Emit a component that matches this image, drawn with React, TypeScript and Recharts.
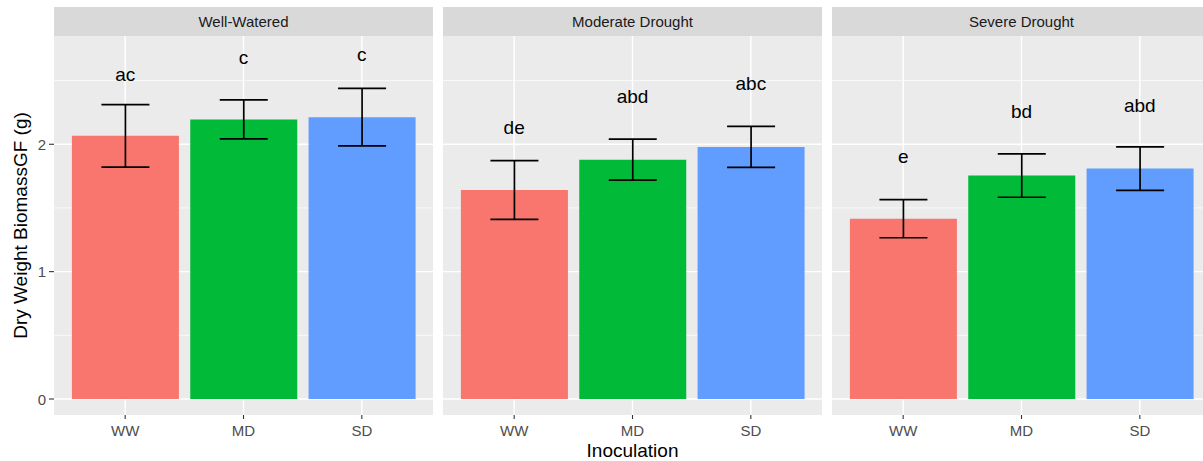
import React from 'react';
import {
  ComposedChart,
  Bar,
  XAxis,
  YAxis,
  CartesianGrid,
  ErrorBar,
  Line,
  LabelList,
  Cell,
} from 'recharts';

const inoculation = ['WW', 'MD', 'SD'];
const panelTitles = ['Well-Watered', 'Moderate Drought', 'Severe Drought'];
const barColors = ['#F8766D', '#00BA38', '#619CFF'];

const wellWateredMeans = [2.066, 2.195, 2.213];
const wellWateredSE = [0.245, 0.153, 0.226];
const wellWateredLetters = ['ac', 'c', 'c'];
const wellWateredLetterY = [2.545, 2.68, 2.7];

const moderateMeans = [1.641, 1.879, 1.979];
const moderateSE = [0.23, 0.161, 0.161];
const moderateLetters = ['de', 'abd', 'abc'];
const moderateLetterY = [2.126, 2.37, 2.47];

const severeMeans = [1.416, 1.754, 1.809];
const severeSE = [0.15, 0.17, 0.171];
const severeLetters = ['e', 'bd', 'abd'];
const severeLetterY = [1.9, 2.25, 2.3];

const yTicks = [0, 1, 2];
const yMinor = [0.5, 1.5, 2.5];
const yDomain: [number, number] = [-0.1256, 2.85];

const FONT = '"Liberation Sans", Arial, Helvetica, sans-serif';

const buildData = (means: number[], se: number[], letters: string[], ly: number[]) =>
  inoculation.map((name, i) => ({ name, mean: means[i], se: se[i], letter: letters[i], letterY: ly[i] }));

const panelsData = [
  buildData(wellWateredMeans, wellWateredSE, wellWateredLetters, wellWateredLetterY),
  buildData(moderateMeans, moderateSE, moderateLetters, moderateLetterY),
  buildData(severeMeans, severeSE, severeLetters, severeLetterY),
];

const PANEL_LEFTS = [54, 443, 832];
const PANEL_W = 379;
const PANEL_TOP = 36;
const PANEL_BOTTOM = 415;
const X_PAD = 12;

const yPix = (v: number, offset: any) =>
  offset.top + offset.height * (1 - (v - yDomain[0]) / (yDomain[1] - yDomain[0]));

const makeHGen = (vals: number[]) => (props: any) => {
  const s = props?.yAxis?.scale;
  if (s && typeof s === 'function') {
    const r = vals.map((v) => s(v));
    if (r.every((n) => typeof n === 'number' && !isNaN(n))) return r;
  }
  return vals.map((v) => yPix(v, props.offset));
};

const vGen = (props: any) => {
  const off = props.offset;
  const band = (off.width - 2 * X_PAD) / inoculation.length;
  return inoculation.map((_, i) => off.left + X_PAD + band * (i + 0.5));
};

const XTick = (props: any) => {
  const { x, y, payload } = props;
  return (
    <text x={x} y={y + 15} textAnchor="middle" fontSize={15} fill="#4D4D4D" fontFamily={FONT}>
      {payload.value}
    </text>
  );
};

const YTick = (props: any) => {
  const { x, y, payload } = props;
  return (
    <text x={x} y={y + 5.5} textAnchor="end" fontSize={15} fill="#4D4D4D" fontFamily={FONT}>
      {payload.value}
    </text>
  );
};

const LetterLabel = (props: any) => {
  const { x, y, value } = props;
  return (
    <text x={x} y={y + 6} textAnchor="middle" fontSize={19} fill="#000000" fontFamily={FONT}>
      {value}
    </text>
  );
};

const Panel = ({ idx }: { idx: number }) => {
  const left = PANEL_LEFTS[idx];
  const first = idx === 0;
  const width = left + PANEL_W;
  return (
    <div style={{ position: 'absolute', left: 0, top: 0 }}>
      <ComposedChart
        width={width}
        height={461}
        data={panelsData[idx]}
        margin={{ top: PANEL_TOP, right: 0, bottom: 461 - PANEL_BOTTOM - 30, left: first ? 0 : left }}
        barCategoryGap="5%"
      >
        <CartesianGrid
          fill="#EBEBEB"
          stroke="#FFFFFF"
          strokeWidth={0.7}
          vertical={false}
          horizontalCoordinatesGenerator={makeHGen(yMinor)}
        />
        <CartesianGrid
          stroke="#FFFFFF"
          strokeWidth={1.4}
          horizontalCoordinatesGenerator={makeHGen(yTicks)}
          verticalCoordinatesGenerator={vGen}
        />
        <XAxis
          dataKey="name"
          type="category"
          height={30}
          padding={{ left: X_PAD, right: X_PAD }}
          axisLine={false}
          tickLine={{ stroke: '#333333', strokeWidth: 1.1 }}
          tickSize={4}
          tick={<XTick />}
          interval={0}
        />
        <YAxis
          type="number"
          domain={yDomain}
          allowDataOverflow
          ticks={yTicks}
          width={54}
          hide={!first}
          axisLine={false}
          tickLine={{ stroke: '#333333', strokeWidth: 1.1 }}
          tickSize={5}
          tickMargin={3}
          tick={<YTick />}
        />
        <Bar dataKey="mean" isAnimationActive={false}>
          {panelsData[idx].map((_, i) => (
            <Cell key={i} fill={barColors[i]} />
          ))}
          <ErrorBar dataKey="se" width={24} stroke="#000000" strokeWidth={1.7} />
        </Bar>
        <Line
          dataKey="letterY"
          stroke="none"
          dot={false}
          activeDot={false}
          isAnimationActive={false}
          legendType="none"
        >
          <LabelList dataKey="letter" content={<LetterLabel />} />
        </Line>
      </ComposedChart>
    </div>
  );
};

export default function App() {
  return (
    <div
      style={{
        position: 'absolute',
        left: 0,
        top: 0,
        width: 1203,
        height: 461,
        overflow: 'hidden',
        background: '#FFFFFF',
        fontFamily: FONT,
      }}
    >
      {[0, 1, 2].map((i) => (
        <Panel key={i} idx={i} />
      ))}
      <svg
        width={1203}
        height={461}
        style={{ position: 'absolute', left: 0, top: 0, pointerEvents: 'none' }}
      >
        {panelTitles.map((t, i) => (
          <g key={t}>
            <rect x={PANEL_LEFTS[i]} y={7} width={PANEL_W} height={29} fill="#D9D9D9" />
            <text
              x={PANEL_LEFTS[i] + PANEL_W / 2}
              y={26.5}
              textAnchor="middle"
              fontSize={15}
              fill="#1A1A1A"
              fontFamily={FONT}
            >
              {t}
            </text>
          </g>
        ))}
        <text
          x={0}
          y={0}
          transform={`translate(26.5, ${(PANEL_TOP + PANEL_BOTTOM) / 2}) rotate(-90)`}
          textAnchor="middle"
          fontSize={19}
          fill="#000000"
          fontFamily={FONT}
        >
          Dry Weight BiomassGF (g)
        </text>
        <text
          x={(PANEL_LEFTS[0] + PANEL_LEFTS[2] + PANEL_W) / 2}
          y={457}
          textAnchor="middle"
          fontSize={19}
          fill="#000000"
          fontFamily={FONT}
        >
          Inoculation
        </text>
      </svg>
    </div>
  );
}
